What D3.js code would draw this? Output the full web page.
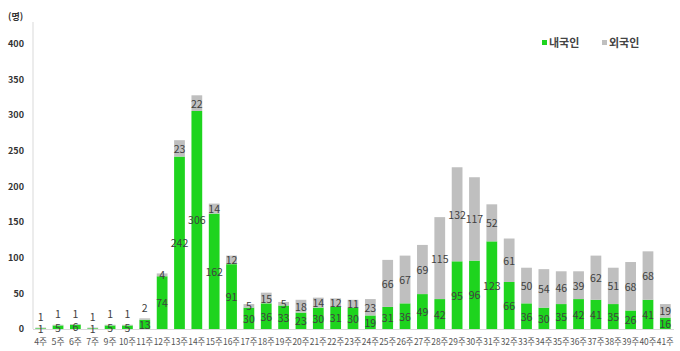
<!DOCTYPE html>
<html lang="ko">
<head>
  <meta charset="utf-8">
  <title>주별 확진자</title>
  <script src="https://d3js.org/d3.v7.min.js"></script>
  <style>
    html, body { margin: 0; padding: 0; background: #fff; }
    svg { display: block; font-family: "Noto Sans CJK KR", "Noto Sans", sans-serif; }
    .ytick text { font-size: 9px; fill: #333; font-weight: bold; }
    .xtick text { font-size: 9px; fill: #555; }
    .lbl { font-size: 10.5px; fill: #404040; text-anchor: middle; dominant-baseline: central; }
    .legend text { font-size: 11px; fill: #444; font-weight: bold; }
  </style>
</head>
<body>
  <svg id="chart" width="680" height="351"></svg>
  <script>
    // weeks (8주 is not in the source)
    const weeks = ['4주','5주','6주','7주','9주','10주','11주','12주','13주','14주','15주','16주',
      '17주','18주','19주','20주','21주','22주','23주','24주','25주','26주','27주','28주','29주',
      '30주','31주','32주','33주','34주','35주','36주','37주','38주','39주','40주','41주'];
    const domestic = [1,5,6,1,5,5,13,74,242,306,162,91,30,36,33,23,30,31,30,19,31,36,49,42,95,
      96,123,66,36,30,35,42,41,35,26,41,16];
    const foreign = [1,1,1,1,1,1,2,4,23,22,14,12,5,15,5,18,14,12,11,23,66,67,69,115,132,
      117,52,61,50,54,46,39,62,51,68,68,19];
    const yTicks = [0,50,100,150,200,250,300,350,400];
    const seriesNames = ['내국인','외국인'];
    const colors = ['#1ed41e', '#bfbfbf'];

    const svg = d3.select('#chart');
    const x = d3.scaleBand().domain(weeks).range([32, 674]).paddingInner(0.38).paddingOuter(0.19);
    const y = d3.scaleLinear().domain([0, 400]).range([329, 44]);

    const rows = weeks.map((w, i) => ({ week: w, d: domestic[i], f: foreign[i] }));

    // y axis line
    svg.append('line')
      .attr('x1', 33).attr('x2', 33).attr('y1', 22).attr('y2', y(0))
      .attr('stroke', '#d9d9d9');
    // baseline
    svg.append('line')
      .attr('x1', 33).attr('x2', 674).attr('y1', y(0) + 0.5).attr('y2', y(0) + 0.5)
      .attr('stroke', '#d9d9d9');

    const yt = svg.append('g').attr('class', 'ytick');
    yt.selectAll('text').data(yTicks).enter().append('text')
      .attr('x', 24).attr('y', d => y(d)).attr('dy', '0.35em')
      .attr('text-anchor', 'end').text(d => d);
    svg.append('text').attr('x', 8).attr('y', 20)
      .style('font-size', '9px').style('font-weight', 'bold').style('fill', '#333')
      .text('(명)');

    // stacked bars
    const bw = x.bandwidth();
    svg.append('g').selectAll('rect.d').data(rows).enter().append('rect')
      .attr('x', d => x(d.week)).attr('width', bw)
      .attr('y', d => y(d.d)).attr('height', d => y(0) - y(d.d))
      .attr('fill', colors[0]);
    svg.append('g').selectAll('rect.f').data(rows).enter().append('rect')
      .attr('x', d => x(d.week)).attr('width', bw)
      .attr('y', d => y(d.d + d.f)).attr('height', d => y(d.d) - y(d.d + d.f))
      .attr('fill', colors[1]);

    // labels
    const lg = svg.append('g');
    lg.selectAll('text.dl').data(rows).enter().append('text')
      .attr('class', 'lbl')
      .attr('x', d => x(d.week) + bw / 2)
      .attr('y', d => Math.min(y(d.d / 2), y(0) + 1))
      .text(d => d.d);
    // tiny foreign values sit just above the bar
    lg.selectAll('text.fl').data(rows).enter().append('text')
      .attr('class', 'lbl')
      .attr('x', d => x(d.week) + bw / 2)
      .attr('y', d => d.f < 3 ? Math.min(y(d.d + d.f) - 11, y(0) - 13) : y(d.d + d.f / 2))
      .text(d => d.f);

    // x labels
    const xt = svg.append('g').attr('class', 'xtick');
    xt.selectAll('text').data(weeks).enter().append('text')
      .attr('x', d => x(d) + bw / 2).attr('y', 342).attr('dy', '0.35em')
      .attr('text-anchor', 'middle').attr('textLength', d => d.length > 2 ? 17 : 13)
      .attr('lengthAdjust', 'spacingAndGlyphs').text(d => d);

    // legend
    const leg = svg.append('g').attr('class', 'legend');
    const legX = [542, 602];
    seriesNames.forEach((n, i) => {
      leg.append('rect').attr('x', legX[i]).attr('y', 40).attr('width', 5).attr('height', 5).attr('fill', colors[i]);
      leg.append('text').attr('x', legX[i] + 7).attr('y', 43).attr('dy', '0.35em').text(n);
    });
  </script>
</body>
</html>
